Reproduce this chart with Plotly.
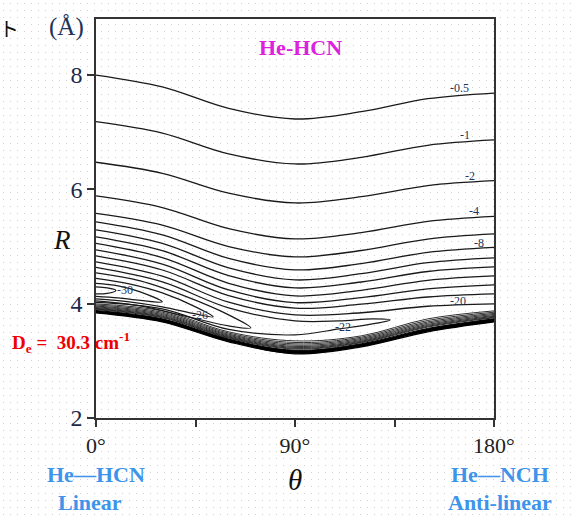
import base64
import struct
import zlib

import plotly.graph_objects as go

# ---------------- data ----------------
theta = [0, 30, 60, 90, 120, 150, 180]

# open contours (outer side of the well), R in Angstrom at each theta
r_m0_5 = [8.000, 7.792, 7.416, 7.231, 7.358, 7.586, 7.685]
r_m1 = [7.184, 6.984, 6.621, 6.444, 6.561, 6.771, 6.864]
r_m2 = [6.474, 6.281, 5.934, 5.762, 5.871, 6.066, 6.152]
r_m4 = [5.885, 5.682, 5.313, 5.133, 5.243, 5.439, 5.526]
r_m6 = [5.579, 5.374, 5.000, 4.818, 4.930, 5.131, 5.220]
r_m8 = [5.430, 5.203, 4.792, 4.591, 4.701, 4.897, 4.984]
r_m10 = [5.290, 5.054, 4.626, 4.416, 4.524, 4.717, 4.801]
r_m12 = [5.168, 4.927, 4.490, 4.276, 4.379, 4.563, 4.643]
r_m14 = [5.054, 4.806, 4.357, 4.136, 4.234, 4.409, 4.486]
r_m16 = [4.941, 4.692, 4.240, 4.019, 4.107, 4.260, 4.329]
r_m18 = [4.836, 4.589, 4.142, 3.921, 3.991, 4.117, 4.171]
r_m20 = [4.731, 4.481, 4.026, 3.804, 3.841, 3.955, 3.997]

# closed contours (loops opening at theta = 0)
loop_m22_theta = [0, 30, 60, 90, 110, 125, 133, 125, 110, 90, 60, 30, 0]
loop_m22_r = [4.634, 4.381, 3.926, 3.699, 3.699, 3.734, 3.716, 3.646, 3.559, 3.454, 3.550, 3.909, 4.022]
loop_m24_theta = [0, 20, 40, 60, 70, 60, 40, 20, 0]
loop_m24_r = [4.538, 4.398, 4.136, 3.804, 3.576, 3.611, 3.786, 3.961, 4.049]
loop_m26_theta = [0, 15, 30, 45, 53, 45, 30, 15, 0]
loop_m26_r = [4.442, 4.346, 4.188, 3.944, 3.769, 3.821, 3.944, 4.031, 4.083]
loop_m28_theta = [0, 10, 20, 30, 20, 10, 0]
loop_m28_r = [4.354, 4.311, 4.206, 4.031, 4.057, 4.101, 4.127]
loop_m30_theta = [0, 5, 9, 5, 0]
loop_m30_r = [4.293, 4.276, 4.232, 4.180, 4.171]

# repulsive wall: densely packed contours
wall_1 = [3.996, 3.874, 3.507, 3.349, 3.437, 3.734, 3.874]
wall_2 = [3.977, 3.851, 3.486, 3.321, 3.414, 3.706, 3.851]
wall_3 = [3.959, 3.830, 3.466, 3.297, 3.393, 3.681, 3.830]
wall_4 = [3.944, 3.811, 3.449, 3.274, 3.374, 3.659, 3.811]
wall_5 = [3.930, 3.793, 3.433, 3.253, 3.356, 3.638, 3.793]
wall_6 = [3.917, 3.778, 3.419, 3.236, 3.341, 3.620, 3.778]
wall_7 = [3.907, 3.764, 3.407, 3.220, 3.327, 3.604, 3.764]
wall_8 = [3.896, 3.753, 3.396, 3.206, 3.316, 3.590, 3.753]
wall_9 = [3.880, 3.735, 3.380, 3.185, 3.298, 3.567, 3.735]
wall_bottom = [3.839, 3.681, 3.332, 3.122, 3.245, 3.507, 3.681]

# contour labels
label_text = ["-0.5", "-1", "-2", "-4", "-8", "-20", "-22", "-26", "-30"]
label_theta = [164.6, 166.9, 169.1, 171.0, 173.4, 163.7, 111.7, 47.0, 13.1]
label_r = [7.78, 6.95, 6.23, 5.62, 5.06, 4.04, 3.59, 3.80, 4.24]

x_ticks = [0, 90, 180]
x_tick_text = ["0°", "90°", "180°"]
x_minor = [45, 135]
y_ticks = [2, 4, 6, 8]

# ---------------- dotted background pattern ----------------
W, H = 572, 519


def _chunk(tag, data):
    return struct.pack(">I", len(data)) + tag + data + struct.pack(">I", zlib.crc32(tag + data) & 0xFFFFFFFF)


def dot_png(w, h, step, off, rgb):
    rows = []
    for yy in range(h):
        row = bytearray(w * 4)
        if yy % step == off:
            for xx in range(off, w, step):
                row[xx * 4:xx * 4 + 4] = bytes((rgb[0], rgb[1], rgb[2], 255))
        rows.append(b"\x00" + bytes(row))
    raw = b"".join(rows)
    png = b"\x89PNG\r\n\x1a\n"
    png += _chunk(b"IHDR", struct.pack(">IIBBBBB", w, h, 8, 6, 0, 0, 0))
    png += _chunk(b"IDAT", zlib.compress(raw, 9))
    png += _chunk(b"IEND", b"")
    return "data:image/png;base64," + base64.b64encode(png).decode()


# ---------------- figure ----------------
L, R_, T, B = 96, 78, 19, 101
PW, PH = W - L - R_, H - T - B

fig = go.Figure()

LINE = "#1a1a1a"
open_lines = [r_m0_5, r_m1, r_m2, r_m4, r_m6, r_m8, r_m10, r_m12, r_m14, r_m16, r_m18, r_m20]
for rr in open_lines:
    fig.add_trace(go.Scatter(x=theta, y=rr, mode="lines",
                             line=dict(color=LINE, width=1.3, shape="spline"),
                             hoverinfo="skip", showlegend=False))

loops = [(loop_m22_theta, loop_m22_r), (loop_m24_theta, loop_m24_r),
         (loop_m26_theta, loop_m26_r), (loop_m28_theta, loop_m28_r),
         (loop_m30_theta, loop_m30_r)]
for tt, rr in loops:
    fig.add_trace(go.Scatter(x=tt, y=rr, mode="lines",
                             line=dict(color=LINE, width=1.2, shape="spline"),
                             hoverinfo="skip", showlegend=False))

for rr in [wall_1, wall_2, wall_3, wall_4, wall_5, wall_6, wall_7, wall_8]:
    fig.add_trace(go.Scatter(x=theta, y=rr, mode="lines",
                             line=dict(color=LINE, width=0.9, shape="spline"),
                             hoverinfo="skip", showlegend=False))
fig.add_trace(go.Scatter(x=theta, y=wall_9, mode="lines",
                         line=dict(color="#000000", width=1.0, shape="spline"),
                         hoverinfo="skip", showlegend=False))
fig.add_trace(go.Scatter(x=theta, y=wall_bottom, mode="lines", fill="tonexty",
                         fillcolor="#000000",
                         line=dict(color="#000000", width=1.2, shape="spline"),
                         hoverinfo="skip", showlegend=False))

SERIF = "Liberation Serif"
ann = []
for t, th, rv in zip(label_text, label_theta, label_r):
    ann.append(dict(x=th, y=rv, xref="x", yref="y", text=t, showarrow=False,
                    xanchor="center", yanchor="middle",
                    font=dict(family=SERIF, size=12, color="#22335a")))


def px(xp):
    return (xp - L) / PW


def py(yp):
    return (H - B - yp) / PH


def note(xp, yp, text, size, color, family=SERIF, xanchor="center"):
    return dict(x=px(xp), y=py(yp), xref="paper", yref="paper", text=text, showarrow=False,
                xanchor=xanchor, yanchor="middle",
                font=dict(family=family, size=size, color=color))


BLUE = "#3d94ea"
ann += [
    note(300, 47, "<b>He-HCN</b>", 22, "#dd22dd"),
    note(62, 240, "<i>R</i>", 27, "#111111"),
    note(66, 27, "(Å)", 25, "#22335a"),
    note(9, 28, "ト", 20, "#111111", family="Noto Sans CJK SC"),
    note(10, 342, "<b>D<sub>e</sub> =\u00a0\u00a030.3 cm<sup>-1</sup></b>", 19, "#ee0000", xanchor="left"),
    note(295, 480, "<i>θ</i>", 29, "#111111"),
    note(96, 474, "<b>He—HCN</b>", 22, BLUE),
    note(90, 502, "<b>Linear</b>", 22, BLUE),
    note(500, 474, "<b>He—NCH</b>", 22, BLUE),
    note(500, 502, "<b>Anti-linear</b>", 22, BLUE),
]

fig.update_layout(
    width=W, height=H,
    margin=dict(l=L, r=R_, t=T, b=B),
    paper_bgcolor="white",
    plot_bgcolor="rgba(0,0,0,0)",
    annotations=ann,
    images=[dict(source=dot_png(W, H, 7, 3, (208, 208, 208)), xref="paper", yref="paper",
                 x=-L / PW, y=1 + T / PH, sizex=W / PW, sizey=H / PH,
                 sizing="stretch", xanchor="left", yanchor="top", layer="below")],
    xaxis=dict(range=[0, 180], tickvals=x_ticks, ticktext=x_tick_text,
               ticks="outside", ticklen=7, tickwidth=1.5, tickcolor="#333333",
               minor=dict(tickvals=x_minor, ticks="outside", ticklen=7, tickwidth=1.5, tickcolor="#333333"),
               showline=True, linecolor="#333333", linewidth=1.5, mirror=True,
               showgrid=False, zeroline=False,
               tickfont=dict(family=SERIF, size=22, color="#222222")),
    yaxis=dict(range=[2, 8.98], tickvals=y_ticks,
               ticks="outside", ticklen=7, tickwidth=1.5, tickcolor="#333333",
               showline=True, linecolor="#333333", linewidth=1.5, mirror=True,
               showgrid=False, zeroline=False,
               tickfont=dict(family=SERIF, size=24, color="#1c2a4a")),
)

fig.write_html("out.html", config={"displayModeBar": False},
               post_script="document.body.style.margin='0';document.body.style.overflow='hidden';")
